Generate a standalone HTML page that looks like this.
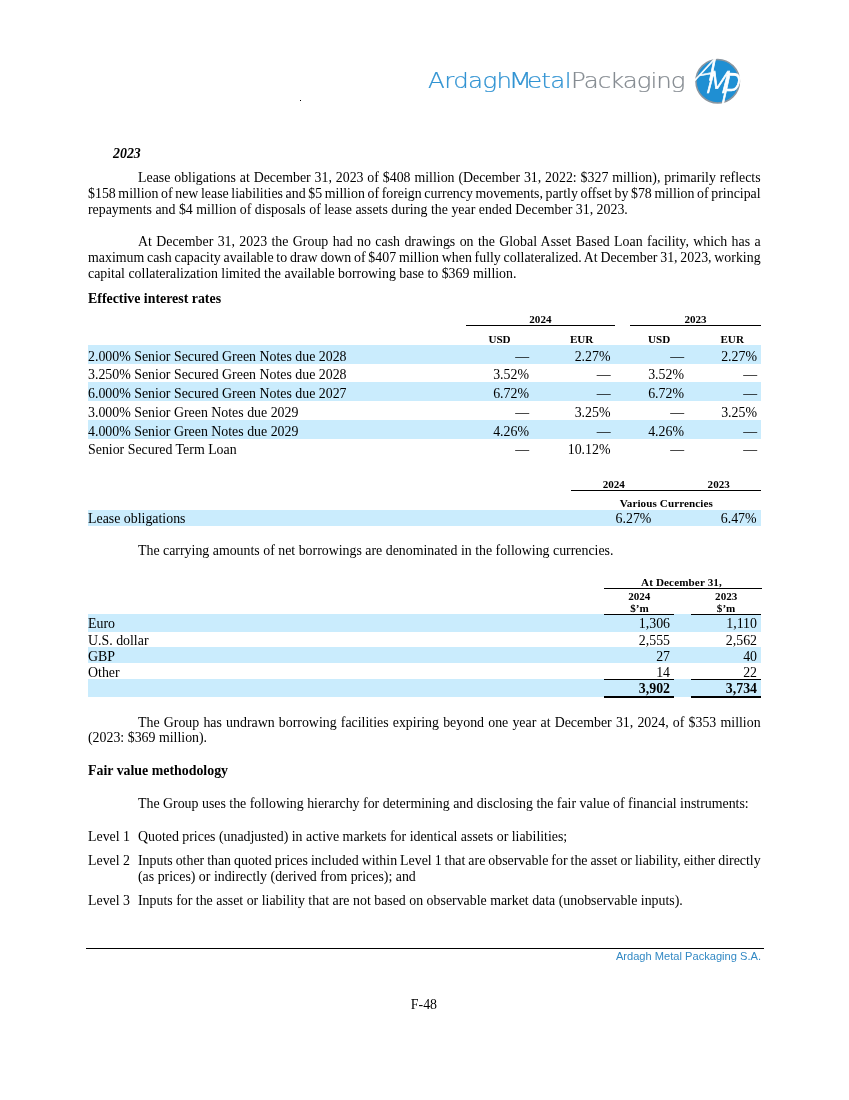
<!DOCTYPE html>
<html lang="en"><head><meta charset="utf-8"><title>F-48</title>
<style>
html,body{margin:0;padding:0;background:#fff;}
body{width:849px;height:1100px;position:relative;overflow:hidden;font-family:"Liberation Serif","Times New Roman",serif;color:#000;}
.t{position:absolute;white-space:nowrap;font-size:13.89px;line-height:16.0px;height:16.0px;}
.r{text-align:right;}
.h{position:absolute;white-space:nowrap;font-size:11.1px;line-height:12px;height:12px;font-weight:bold;text-align:center;}
.b{position:absolute;background:#caecfd;}
.l{position:absolute;background:#000;}
</style></head><body>
<div class="t" style="left:113.0px;top:146.31px;font-weight:bold;font-style:italic">2023</div>
<div class="t" style="left:138.0px;top:170.21px;word-spacing:0.406px;">Lease obligations at December 31, 2023 of $408 million (December 31, 2022: $327 million), primarily reflects</div>
<div class="t" style="left:88.0px;top:186.21px;word-spacing:-0.849px;">$158 million of new lease liabilities and $5 million of foreign currency movements, partly offset by $78 million of principal</div>
<div class="t" style="left:88.0px;top:202.11px;">repayments and $4 million of disposals of lease assets during the year ended December 31, 2023.</div>
<div class="t" style="left:138.0px;top:234.11px;word-spacing:0.915px;">At December 31, 2023 the Group had no cash drawings on the Global Asset Based Loan facility, which has a</div>
<div class="t" style="left:88.0px;top:250.01px;word-spacing:-0.689px;">maximum cash capacity available to draw down of $407 million when fully collateralized. At December 31, 2023, working</div>
<div class="t" style="left:88.0px;top:266.01px;">capital collateralization limited the available borrowing base to $369 million.</div>
<div class="t" style="left:88.0px;top:291.11px;font-weight:bold">Effective interest rates</div>
<div class="t" style="left:138.0px;top:543.31px;">The carrying amounts of net borrowings are denominated in the following currencies.</div>
<div class="t" style="left:138.0px;top:714.91px;word-spacing:0.717px;">The Group has undrawn borrowing facilities expiring beyond one year at December 31, 2024, of $353 million</div>
<div class="t" style="left:88.0px;top:730.31px;">(2023: $369 million).</div>
<div class="t" style="left:88.0px;top:763.11px;font-weight:bold">Fair value methodology</div>
<div class="t" style="left:138.0px;top:795.91px;">The Group uses the following hierarchy for determining and disclosing the fair value of financial instruments:</div>
<div class="t" style="left:88.0px;top:829.01px;">Level 1</div>
<div class="t" style="left:138.0px;top:829.01px;">Quoted prices (unadjusted) in active markets for identical assets or liabilities;</div>
<div class="t" style="left:88.0px;top:853.31px;">Level 2</div>
<div class="t" style="left:138.0px;top:853.31px;word-spacing:-0.487px;">Inputs other than quoted prices included within Level 1 that are observable for the asset or liability, either directly</div>
<div class="t" style="left:138.0px;top:869.31px;">(as prices) or indirectly (derived from prices); and</div>
<div class="t" style="left:88.0px;top:892.91px;">Level 3</div>
<div class="t" style="left:138.0px;top:892.91px;">Inputs for the asset or liability that are not based on observable market data (unobservable inputs).</div>
<div class="b" style="left:88.0px;top:345.2px;width:672.6px;height:18.6px"></div>
<div class="b" style="left:88.0px;top:382.0px;width:672.6px;height:18.5px"></div>
<div class="b" style="left:88.0px;top:420.2px;width:672.6px;height:18.5px"></div>
<div class="t" style="left:88.0px;top:349.21px;">2.000% Senior Secured Green Notes due 2028</div>
<div class="t r" style="right:320.0px;top:349.21px;">—</div>
<div class="t r" style="right:238.5px;top:349.21px;">2.27%</div>
<div class="t r" style="right:165.0px;top:349.21px;">—</div>
<div class="t r" style="right:92.0px;top:349.21px;">2.27%</div>
<div class="t" style="left:88.0px;top:367.11px;">3.250% Senior Secured Green Notes due 2028</div>
<div class="t r" style="right:320.0px;top:367.11px;">3.52%</div>
<div class="t r" style="right:238.5px;top:367.11px;">—</div>
<div class="t r" style="right:165.0px;top:367.11px;">3.52%</div>
<div class="t r" style="right:92.0px;top:367.11px;">—</div>
<div class="t" style="left:88.0px;top:385.71px;">6.000% Senior Secured Green Notes due 2027</div>
<div class="t r" style="right:320.0px;top:385.71px;">6.72%</div>
<div class="t r" style="right:238.5px;top:385.71px;">—</div>
<div class="t r" style="right:165.0px;top:385.71px;">6.72%</div>
<div class="t r" style="right:92.0px;top:385.71px;">—</div>
<div class="t" style="left:88.0px;top:404.71px;">3.000% Senior Green Notes due 2029</div>
<div class="t r" style="right:320.0px;top:404.71px;">—</div>
<div class="t r" style="right:238.5px;top:404.71px;">3.25%</div>
<div class="t r" style="right:165.0px;top:404.71px;">—</div>
<div class="t r" style="right:92.0px;top:404.71px;">3.25%</div>
<div class="t" style="left:88.0px;top:423.91px;">4.000% Senior Green Notes due 2029</div>
<div class="t r" style="right:320.0px;top:423.91px;">4.26%</div>
<div class="t r" style="right:238.5px;top:423.91px;">—</div>
<div class="t r" style="right:165.0px;top:423.91px;">4.26%</div>
<div class="t r" style="right:92.0px;top:423.91px;">—</div>
<div class="t" style="left:88.0px;top:442.21px;">Senior Secured Term Loan</div>
<div class="t r" style="right:320.0px;top:442.21px;">—</div>
<div class="t r" style="right:238.5px;top:442.21px;">10.12%</div>
<div class="t r" style="right:165.0px;top:442.21px;">—</div>
<div class="t r" style="right:92.0px;top:442.21px;">—</div>
<div class="h" style="left:480.4px;width:120px;top:312.65px">2024</div>
<div class="h" style="left:635.5px;width:120px;top:312.65px">2023</div>
<div class="l" style="left:466px;top:325px;width:149.2px;height:1.0px"></div>
<div class="l" style="left:630px;top:325px;width:130.6px;height:1.0px"></div>
<div class="h" style="left:439.5px;width:120px;top:333.05px">USD</div>
<div class="h" style="left:521.6px;width:120px;top:333.05px">EUR</div>
<div class="h" style="left:599.2px;width:120px;top:333.05px">USD</div>
<div class="h" style="left:672.2px;width:120px;top:333.05px">EUR</div>
<div class="b" style="left:88.0px;top:510.1px;width:672.6px;height:15.6px"></div>
<div class="h" style="left:553.8px;width:120px;top:478.05px">2024</div>
<div class="h" style="left:658.7px;width:120px;top:478.05px">2023</div>
<div class="l" style="left:571px;top:490px;width:189.8px;height:1.0px"></div>
<div class="h" style="left:606.3px;width:120px;top:496.95px;letter-spacing:0.09px">Various Currencies</div>
<div class="t" style="left:88.0px;top:511.21px;">Lease obligations</div>
<div class="t r" style="right:197.6px;top:510.91px;">6.27%</div>
<div class="t r" style="right:92.4px;top:510.91px;">6.47%</div>
<div class="b" style="left:88.0px;top:614.3px;width:672.6px;height:17.4px"></div>
<div class="b" style="left:88.0px;top:646.9px;width:672.6px;height:15.7px"></div>
<div class="b" style="left:88.0px;top:679.3px;width:672.6px;height:17.4px"></div>
<div class="t" style="left:88.0px;top:616.01px;">Euro</div>
<div class="t r" style="right:179.0px;top:616.01px;">1,306</div>
<div class="t r" style="right:92.0px;top:616.01px;">1,110</div>
<div class="t" style="left:88.0px;top:632.91px;">U.S. dollar</div>
<div class="t r" style="right:179.0px;top:632.91px;">2,555</div>
<div class="t r" style="right:92.0px;top:632.91px;">2,562</div>
<div class="t" style="left:88.0px;top:648.81px;">GBP</div>
<div class="t r" style="right:179.0px;top:648.81px;">27</div>
<div class="t r" style="right:92.0px;top:648.81px;">40</div>
<div class="t" style="left:88.0px;top:664.81px;">Other</div>
<div class="t r" style="right:179.0px;top:664.81px;">14</div>
<div class="t r" style="right:92.0px;top:664.81px;">22</div>
<div class="t r" style="right:179.0px;top:680.51px;font-weight:bold">3,902</div>
<div class="t r" style="right:92.0px;top:680.51px;font-weight:bold">3,734</div>
<div class="h" style="left:621.5px;width:120px;top:576.15px;letter-spacing:0.12px">At December 31,</div>
<div class="l" style="left:604px;top:588px;width:157.5px;height:1.0px"></div>
<div class="h" style="left:579.3px;width:120px;top:590.25px">2024</div>
<div class="h" style="left:666.2px;width:120px;top:590.25px">2023</div>
<div class="h" style="left:579.4px;width:120px;top:601.95px">$’m</div>
<div class="h" style="left:666.1px;width:120px;top:601.95px">$’m</div>
<div class="l" style="left:604px;top:614px;width:70.0px;height:1.0px"></div>
<div class="l" style="left:691.2px;top:614px;width:70.0px;height:1.0px"></div>
<div class="l" style="left:604px;top:679px;width:70.0px;height:1.0px"></div>
<div class="l" style="left:691.2px;top:679px;width:70.0px;height:1.0px"></div>
<div class="l" style="left:604px;top:695.5px;width:70.0px;height:2.2px"></div>
<div class="l" style="left:691.2px;top:695.5px;width:70.0px;height:2.2px"></div>
<div class="l" style="left:86px;top:947.6px;width:678.3px;height:1.0px"></div>
<div style="position:absolute;right:88.0px;top:950.1px;font-family:'Liberation Sans',Arial,sans-serif;font-size:11.11px;line-height:12px;color:#3389c4;white-space:nowrap">Ardagh Metal Packaging S.A.</div>
<div class="t" style="left:-0.6px;width:849px;text-align:center;top:997.31px">F-48</div>
<div class="l" style="left:300px;top:100px;width:1px;height:1px"></div>
<div id="logo" style="position:absolute;left:0;top:0;width:849px;height:130px;font-family:'DejaVu Sans Light','DejaVu Sans','Liberation Sans',sans-serif;font-weight:200;">
<div style="position:absolute;left:427.6px;top:64.5px;font-size:21.3px;line-height:32px;white-space:nowrap;letter-spacing:-0.95px;color:#3193d2;-webkit-text-stroke:0.22px #3193d2;transform:scaleX(1.15);transform-origin:0 0;"><span style="letter-spacing:-0.53px">Ardagh</span><span style="display:inline-block;transform:scaleX(1.12);transform-origin:0 50%;margin-left:-2.9px;margin-right:-1.2px">M</span><span style="letter-spacing:-0.55px">etal</span></div>
<div style="position:absolute;left:571.0px;top:64.5px;font-size:21.3px;line-height:32px;white-space:nowrap;letter-spacing:-0.88px;color:#868c92;-webkit-text-stroke:0.22px #868c92;transform:scaleX(1.15);transform-origin:0 0;">Packaging</div>
<svg style="position:absolute;left:680px;top:40px" width="90" height="90" viewBox="0 0 90 90">
<circle cx="37.7" cy="41.25" r="21.75" fill="#1f8fd3" stroke="#8a96a0" stroke-width="1.5"/>
<g fill="#fff" stroke="#fff" stroke-width="0.65" font-family="'DejaVu Sans Light','DejaVu Sans','Liberation Sans',sans-serif" font-weight="200" font-size="30">
<text x="0" y="0" transform="matrix(1.1052,-0.2184,-0.6124,1.0386,9.734,44.142)">A</text>
<text x="0" y="0" transform="matrix(1.0298,0,-0.2606,1.0014,22.285,53.1)">M</text>
<text x="0" y="0" transform="matrix(0.9984,0.0473,-0.3064,1.39,38.527,63.493)">P</text>
</g>
</svg>
</div>
</body></html>
